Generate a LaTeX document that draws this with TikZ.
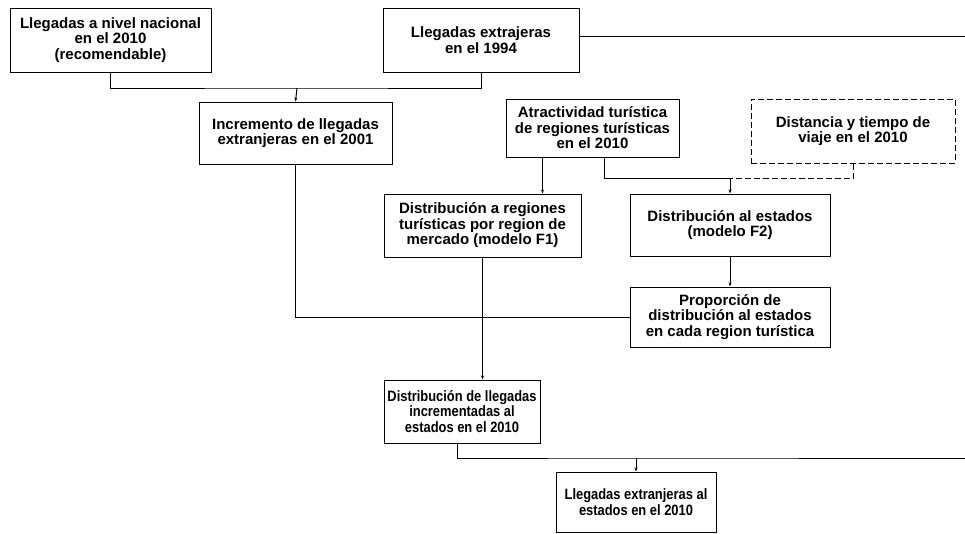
\documentclass[tikz,border=0pt]{standalone}
\usepackage{fontspec}
\setmainfont{Liberation Sans}
\newfontfamily\narrowfont{Liberation Sans}[FakeStretch=0.86]
\usetikzlibrary{arrows.meta}

\begin{document}
\begin{tikzpicture}[x=1pt,y=-1pt,
    box/.style={draw,line width=1pt,align=center,inner sep=1pt,
      font=\fontsize{15}{15.5}\selectfont\bfseries},
    narrowbox/.style={box,font=\fontsize{15}{15.5}\narrowfont\bfseries},
    dashbox/.style={box,dashed,dash pattern=on 6pt off 3pt},
    conn/.style={line width=1pt},
    tip/.style={conn,-{Stealth[length=4pt,width=3pt]}}]
  \useasboundingbox (0,0) rectangle (965,533);
  % cuadros
  \node[box,minimum width=201pt,minimum height=64pt] (nacional) at (110.5,40)
    {Llegadas a nivel nacional\\en el 2010\\(recomendable)};
  \node[box,minimum width=196pt,minimum height=64pt] (ext1994) at (481,40)
    {Llegadas extrajeras\\en el 1994};
  \node[box,minimum width=193pt,minimum height=62pt] (incremento) at (295.5,133)
    {Incremento de llegadas\\extranjeras en el 2001};
  \node[box,minimum width=173pt,minimum height=58pt] (atract) at (592.5,128)
    {Atractividad turística\\de regiones turísticas\\en el 2010};
  \node[dashbox,minimum width=204pt,minimum height=64pt] (distancia) at (853,131)
    {Distancia y tiempo de\\viaje en el 2010};
  \node[box,minimum width=197pt,minimum height=63pt] (modeloF1) at (482.5,225.5)
    {Distribución a regiones\\turísticas por region de\\mercado (modelo F1)};
  \node[box,minimum width=200pt,minimum height=62pt] (modeloF2) at (730,225)
    {Distribución al estados\\(modelo F2)};
  \node[box,minimum width=200pt,minimum height=60pt] (proporcion) at (730,317)
    {Proporción de\\distribución al estados\\en cada region turística};
  \node[narrowbox,minimum width=156pt,minimum height=63pt] (distinc) at (462,411.5)
    {Distribución de llegadas\\incrementadas al\\estados en el 2010};
  \node[narrowbox,minimum width=160pt,minimum height=60pt] (extestados) at (636,502)
    {Llegadas extranjeras al\\estados en el 2010};
  % puntos de union
  \coordinate (j1) at (297,88);
  \coordinate (j2) at (modeloF1.south |- proporcion.west);
  \coordinate (j3) at (730,178);
  \coordinate (j4) at (636,458);
  \coordinate (e1) at (965,36);
  \coordinate (e2) at (965,458);
  % conectores
  \draw[conn] (nacional.south) |- (j1) -| (ext1994.south);
  \draw[tip] (j1) -- (incremento.north);
  \draw[conn] ([yshift=4pt]ext1994.east) -- (e1);
  \draw[conn] (incremento.south) |- (j2);
  \draw[conn] (proporcion.west) -- (j2);
  \draw[tip] (modeloF1.south) -- (modeloF1.south |- distinc.north);
  \draw[tip] ([xshift=-50pt]atract.south) -- ([xshift=-50pt]atract.south |- modeloF1.north);
  \draw[conn] ([xshift=12pt]atract.south) |- (j3);
  \draw[conn,dashed,dash pattern=on 6pt off 3pt] (distancia.south) |- (j3);
  \draw[tip] (j3) -- (modeloF2.north);
  \draw[tip] (modeloF2) -- (proporcion);
  \draw[conn] ([xshift=-5pt]distinc.south) |- (j4) -- (e2);
  \draw[tip] (j4) -- (extestados.north);
\end{tikzpicture}
\end{document}
